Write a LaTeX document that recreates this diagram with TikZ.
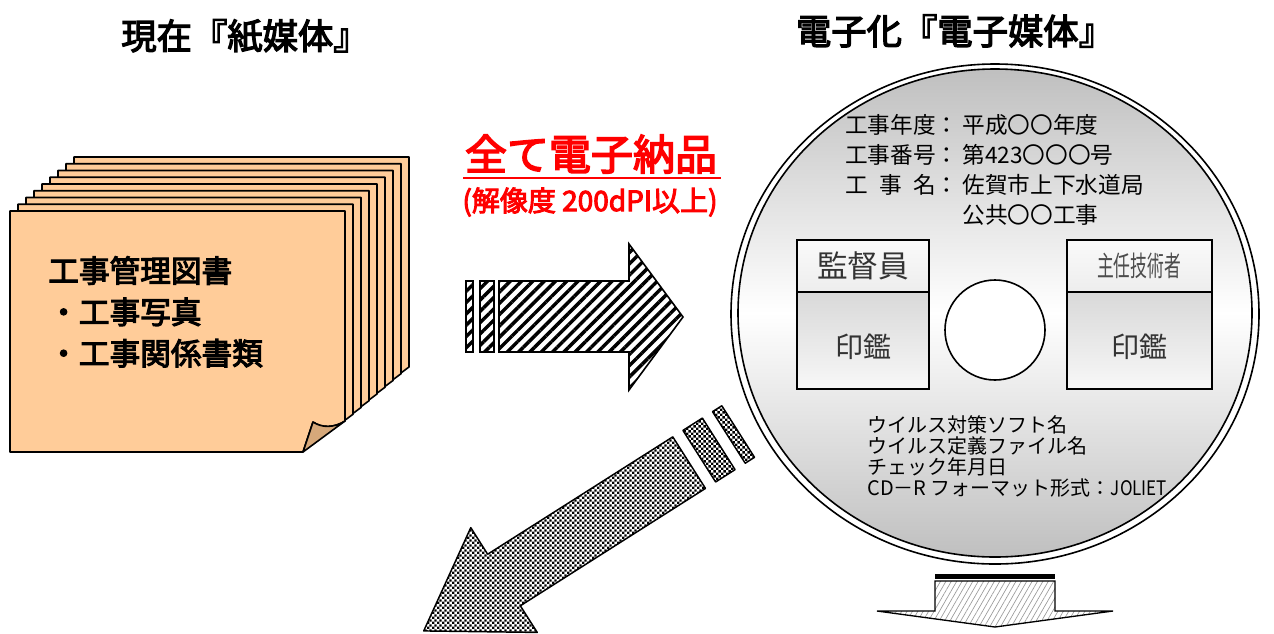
\documentclass[tikz,border=0pt]{standalone}
\usepackage{fontspec}
\newfontfamily\jp{Noto Sans CJK JP}
\newfontfamily\jpbf{Noto Sans CJK JP}[FakeBold=3.5]
\usetikzlibrary{patterns,patterns.meta}
\definecolor{paper}{RGB}{255,204,153}
\definecolor{paperfold}{RGB}{214,168,122}
\definecolor{inkred}{RGB}{255,0,0}
\newcommand\setfs[2]{\fontsize{#1}{#2}\selectfont}
\tikzdeclarepattern{
  name=finechecker, type=uncolored,
  bounding box={(0pt,0pt) and (3.6pt,3.6pt)},
  tile size={(3.6pt,3.6pt)},
  code={\fill (0pt,0pt) rectangle (1.9pt,1.9pt); \fill (1.8pt,1.8pt) rectangle (3.7pt,3.7pt);}
}
\tikzset{
  sheet/.style={draw, line width=1.2pt, fill=paper, line join=round},
  hatch/.style={draw, line width=1.2pt, fill=white, pattern={Lines[angle=45,distance=6pt,line width=2.6pt]}},
  chk/.style={draw, line width=1.1pt, line join=round, pattern=finechecker},
  stamp/.style={draw, line width=1pt},
  ttl/.style={font=\jpbf\setfs{26.5pt}{30pt}},
  info/.style={font=\jp\setfs{17pt}{22.5pt}, align=left, inner sep=0pt},
}
\begin{document}
\begin{tikzpicture}[x=0.75pt, y=-0.75pt]
    \useasboundingbox (0,0) rectangle (1274,633);

    \node[ttl] (ttl_paper) at (245,36) {現在『紙媒体』};
    \node[ttl] (ttl_disk) at (955,31) {電子化『電子媒体』};

    \foreach \k in {8,7,...,1}
        \draw[sheet, shift={(8*\k,-6.75*\k)}] (10,211) -- (345,211) -- (345,421) -- (303,452) -- (10,452) -- cycle;
    \draw[sheet] (10,211) -- (345,211) -- (345,421) .. controls (334,428) and (322,428) .. (313,422) -- (303,452) -- (10,452) -- cycle;
    \draw[sheet, fill=paperfold] (313,422) .. controls (322,428) and (334,428) .. (345,421) -- (303,452) -- cycle;
    \node[font=\jpbf\setfs{23pt}{31pt}, align=left, anchor=north west, inner sep=0pt] (doc_txt) at (48,256)
        {工事管理図書\\・工事写真\\・工事関係書類};

    \node[font=\jpbf\setfs{31.5pt}{36pt}, text=inkred] (all_el) at (591,154) {全て電子納品};
    \draw[inkred, line width=1.6pt] (463,178) -- (721,178);
    \node[font=\jpbf\setfs{21pt}{24pt}, text=inkred] (dpi) at (590,202) {(解像度 200dPI以上)};

    \draw[hatch] (466,281) rectangle (473,352);
    \draw[hatch] (480,281) rectangle (494,352);
    \draw[hatch] (499,281) -- (629,281) -- (629,244) -- (683,317) -- (629,390) -- (629,352) -- (499,352) -- cycle;

    \draw[line width=1.2pt, fill=white] (995,314) ellipse [x radius=264, y radius=250];
    \draw[line width=1.2pt, top color=gray!50, bottom color=gray!50, middle color=white] (995,313) ellipse [x radius=257, y radius=244];

    \node[info, anchor=north west] (cd_head) at (845,114)
        {工事年度：\,平成〇〇年度\\工事番号：\,第423〇〇〇号\\\makebox[4em][s]{工\hfil 事\hfil 名}：\,佐賀市上下水道局\\\hphantom{工事年度：\,}公共〇〇工事};

    \draw[stamp, top color=gray!4, bottom color=gray!14] (797,240) rectangle (929,292);
    \draw[stamp, top color=gray!30, bottom color=gray!6] (797,292) rectangle (929,389);
    \draw[stamp, top color=gray!4, bottom color=gray!14] (1067,240) rectangle (1212,292);
    \draw[stamp, top color=gray!30, bottom color=gray!6] (1067,292) rectangle (1212,389);
    \node[font=\jp\setfs{23pt}{26pt}, text=black!80] (sup_lbl) at (863,266) {監督員};
    \node[font=\jp\setfs{21pt}{24pt}, text=black!70] (eng_lbl) at (1139,266) {\scalebox{0.6}[1]{主任技術者}};
    \node[font=\jp\setfs{21pt}{24pt}, text=black!80] (sup_seal) at (863,347) {印鑑};
    \node[font=\jp\setfs{21pt}{24pt}, text=black!80] (eng_seal) at (1139,347) {印鑑};

    \draw[line width=1.2pt, fill=white] (995,330) circle [radius=50];

    \node[info, font=\jp\setfs{15pt}{15.8pt}, anchor=north west] (cd_foot) at (867,415)
        {ウイルス対策ソフト名\\ウイルス定義ファイル名\\チェック年月日\\CD－R フォーマット形式：\scalebox{0.85}[1]{JOLIET}};

    \begin{scope}[shift={(504,580)}, x={(-0.634pt,-0.402pt)}, y={(0.402pt,-0.634pt)}]
        \draw[chk] (0,-62) -- (95,0) -- (0,62) -- (0,30.5) -- (-219,30.5) -- (-219,-30.5) -- (0,-30.5) -- cycle;
        \draw[chk] (-231,-30.5) -- (-254,-30.5) -- (-254,30.5) -- (-231,30.5) -- cycle;
        \draw[chk] (-266,-30.5) -- (-277,-30.5) -- (-277,30.5) -- (-266,30.5) -- cycle;
    \end{scope}

    \draw[line width=1pt, pattern={Lines[angle=60,distance=3.5pt,line width=0.5pt]}, pattern color=gray!80]
        (935,581) -- (935,611) -- (877,611) -- (995,627) -- (1113,611) -- (1055,611) -- (1055,581) -- cycle;
    \fill (935,574) rectangle (1055,578.5);
\end{tikzpicture}
\end{document}
